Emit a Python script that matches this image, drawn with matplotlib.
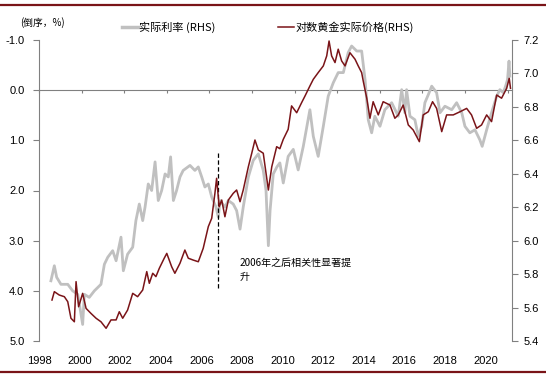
"""Real rate (inverted) vs log real gold price, 1998-2020."""

import matplotlib

matplotlib.use("Agg")
import matplotlib.pyplot as plt
from matplotlib.lines import Line2D

CJK = ["Noto Sans CJK SC", "DejaVu Sans"]
plt.rcParams["font.family"] = ["Liberation Sans", "DejaVu Sans"]

GREY = "#c0c0c0"
RED = "#7a1418"
AXIS_GREY = "#808080"

# real interest rate, % (drawn on an inverted left axis): (year, value)
rate_pts = [
    (1998.56, 3.80), (1998.72, 3.50), (1998.83, 3.73), (1999.03, 3.87), (1999.35, 3.87),
    (1999.58, 4.00), (1999.82, 4.07), (2000.05, 4.67), (2000.13, 4.07), (2000.36, 4.13),
    (2000.60, 4.00), (2000.91, 3.87), (2001.07, 3.47), (2001.23, 3.33), (2001.46, 3.20),
    (2001.62, 3.40), (2001.85, 2.93), (2001.96, 3.60), (2002.16, 3.27), (2002.40, 3.13),
    (2002.55, 2.60), (2002.71, 2.27), (2002.87, 2.60), (2002.98, 2.33), (2003.13, 1.87),
    (2003.29, 2.00), (2003.45, 1.43), (2003.60, 2.20), (2003.76, 2.00), (2003.92, 1.67),
    (2004.07, 1.73), (2004.18, 1.33), (2004.31, 2.20), (2004.46, 2.00), (2004.62, 1.73),
    (2004.77, 1.60), (2005.09, 1.50), (2005.32, 1.60), (2005.48, 1.53), (2005.64, 1.73),
    (2005.79, 1.93), (2005.95, 1.87), (2006.11, 2.13), (2006.31, 2.33), (2006.42, 2.53),
    (2006.50, 2.20), (2006.73, 2.33), (2006.89, 2.20), (2007.12, 2.27), (2007.28, 2.40),
    (2007.44, 2.77), (2007.59, 2.33), (2007.83, 1.73), (2008.06, 1.40), (2008.30, 1.27),
    (2008.53, 1.60), (2008.66, 2.00), (2008.77, 3.10), (2008.85, 2.40), (2009.00, 1.67),
    (2009.17, 1.53), (2009.31, 1.45), (2009.47, 1.85), (2009.70, 1.32), (2009.94, 1.18),
    (2010.17, 1.59), (2010.41, 1.12), (2010.72, 0.39), (2010.88, 0.92), (2011.11, 1.32),
    (2011.35, 0.72), (2011.58, 0.12), (2011.82, -0.15), (2012.05, -0.35), (2012.29, -0.35),
    (2012.52, -0.75), (2012.68, -0.88), (2012.92, -0.78), (2013.15, -0.78), (2013.31, -0.21),
    (2013.46, 0.59), (2013.62, 0.85), (2013.77, 0.52), (2014.01, 0.72), (2014.24, 0.39),
    (2014.56, 0.25), (2014.87, 0.52), (2015.03, -0.01), (2015.18, 0.45), (2015.26, -0.01),
    (2015.42, 0.52), (2015.65, 0.59), (2015.81, 0.92), (2015.97, 0.72), (2016.12, 0.25),
    (2016.28, 0.09), (2016.44, -0.08), (2016.67, 0.05), (2016.83, 0.45), (2017.06, 0.32),
    (2017.38, 0.39), (2017.61, 0.25), (2017.85, 0.45), (2018.00, 0.72), (2018.23, 0.85),
    (2018.47, 0.79), (2018.70, 0.99), (2018.81, 1.12), (2019.02, 0.79), (2019.25, 0.45),
    (2019.49, 0.12), (2019.64, -0.01), (2019.80, 0.05), (2019.91, -0.08), (2020.00, -0.21),
    (2020.07, -0.58), (2020.11, -0.28),
]

# log real gold price (right axis): (year, value)
gold_pts = [
    (1998.61, 5.645), (1998.72, 5.695), (1998.95, 5.675), (1999.19, 5.665), (1999.35, 5.635),
    (1999.50, 5.536), (1999.66, 5.515), (1999.74, 5.755), (1999.86, 5.605), (2000.05, 5.685),
    (2000.21, 5.595), (2000.44, 5.565), (2000.68, 5.536), (2000.91, 5.515), (2001.15, 5.476),
    (2001.38, 5.526), (2001.62, 5.526), (2001.77, 5.575), (2001.93, 5.536), (2002.16, 5.585),
    (2002.40, 5.685), (2002.63, 5.665), (2002.87, 5.705), (2003.06, 5.815), (2003.18, 5.745),
    (2003.34, 5.805), (2003.49, 5.785), (2003.65, 5.835), (2003.88, 5.895), (2004.00, 5.924),
    (2004.23, 5.844), (2004.38, 5.805), (2004.62, 5.865), (2004.85, 5.944), (2005.01, 5.895),
    (2005.24, 5.884), (2005.48, 5.874), (2005.71, 5.954), (2005.95, 6.084), (2006.11, 6.134),
    (2006.26, 6.283), (2006.34, 6.373), (2006.46, 6.203), (2006.58, 6.243), (2006.73, 6.143),
    (2006.89, 6.243), (2007.12, 6.283), (2007.28, 6.303), (2007.44, 6.233), (2007.59, 6.303),
    (2007.83, 6.442), (2007.99, 6.523), (2008.14, 6.602), (2008.30, 6.542), (2008.53, 6.523),
    (2008.77, 6.303), (2008.93, 6.442), (2009.16, 6.562), (2009.31, 6.550), (2009.47, 6.606),
    (2009.70, 6.666), (2009.86, 6.806), (2010.10, 6.765), (2010.33, 6.825), (2010.49, 6.865),
    (2010.72, 6.925), (2010.88, 6.965), (2011.11, 7.005), (2011.35, 7.045), (2011.51, 7.105),
    (2011.62, 7.194), (2011.74, 7.105), (2011.90, 7.065), (2012.05, 7.145), (2012.21, 7.075),
    (2012.37, 7.045), (2012.60, 7.124), (2012.84, 7.085), (2012.99, 7.045), (2013.15, 7.005),
    (2013.23, 6.951), (2013.39, 6.852), (2013.54, 6.732), (2013.69, 6.831), (2013.93, 6.752),
    (2014.16, 6.831), (2014.48, 6.811), (2014.71, 6.732), (2014.87, 6.752), (2015.10, 6.811),
    (2015.34, 6.692), (2015.57, 6.662), (2015.86, 6.592), (2016.04, 6.752), (2016.28, 6.771),
    (2016.48, 6.831), (2016.67, 6.791), (2016.91, 6.652), (2017.14, 6.752), (2017.45, 6.752),
    (2017.77, 6.771), (2018.08, 6.791), (2018.31, 6.752), (2018.55, 6.672), (2018.78, 6.692),
    (2019.02, 6.752), (2019.25, 6.712), (2019.49, 6.871), (2019.72, 6.852), (2019.96, 6.911),
    (2020.08, 6.971), (2020.14, 6.911),
]

x_ticks = list(range(1998, 2021, 2))
left_ticks = [-1, 0, 1, 2, 3, 4, 5]
right_ticks = [5.4, 5.6, 5.8, 6.0, 6.2, 6.4, 6.6, 6.8, 7.0, 7.2]

marker_year = 2006.42
marker_span = (1.26, 3.96)
note = "2006年之后相关性显著提\n升"


def to_label(y):
    # Excel spaced the year labels slightly tighter than the data axis
    return 1998 + 21.3 * (y - 1998) / 20.3


def from_label(v):
    return 1998 + 20.3 * (v - 1998) / 21.3


rate_year, rate = zip(*rate_pts)
gold_year, gold = zip(*gold_pts)

fig = plt.figure(figsize=(5.46, 3.76), dpi=100)
ax = fig.add_axes([39 / 546, 1 - 341 / 376, 473 / 546, 301 / 376])
ax2 = ax.twinx()

ax.plot(rate_year, rate, color=GREY, lw=2.0, solid_joinstyle="round")
ax2.plot(gold_year, gold, color=RED, lw=1.1)

ax.set_xlim(1998, 2020.21)
ax.set_ylim(5, -1)
ax2.set_ylim(5.4, 7.2)

for a in (ax, ax2):
    for side in ("top", "bottom"):
        a.spines[side].set_visible(False)
ax.spines["right"].set_visible(False)
ax2.spines["left"].set_visible(False)
ax.spines["left"].set_color(AXIS_GREY)
ax2.spines["right"].set_color(AXIS_GREY)

ax.set_yticks(left_ticks, [f"{v:.1f}" for v in left_ticks])
ax2.set_yticks(right_ticks, [f"{v:.1f}" for v in right_ticks])
ax.tick_params(axis="y", length=4, width=0.8, color=AXIS_GREY, pad=6.5, labelsize=8)
ax2.tick_params(axis="y", length=4, width=0.8, color=AXIS_GREY, pad=4, labelsize=8)
ax.tick_params(axis="x", bottom=False, labelbottom=False)

# year labels along the bottom
lab = ax.secondary_xaxis("bottom", functions=(to_label, from_label))
lab.spines["bottom"].set_visible(False)
lab.set_xticks(x_ticks, [str(y) for y in x_ticks])
lab.tick_params(length=0, pad=11, labelsize=8)

# zero line with small upward ticks
zero = ax.secondary_xaxis(5 / 6)
zero.set_xticks(x_ticks, [])
for s in zero.spines.values():
    s.set_color(AXIS_GREY)
zero.tick_params(length=2.4, width=0.8, color=AXIS_GREY, direction="in")

ax.vlines(marker_year, *marker_span, colors="black", lw=0.9, linestyles=(0, (3.5, 2)))
ax.text(2007.44, 3.35, note, fontsize=7.2, family=CJK, va="top", ha="left",
        linespacing=1.45)

fig.text(20 / 546, 1 - 23 / 376, "(倒序，%)", fontsize=7, family=CJK, va="center")

handles = [Line2D([], [], color=GREY, lw=2.5), Line2D([], [], color=RED, lw=1.1)]
fig.legend(handles, ["实际利率 (RHS)", "对数黄金实际价格(RHS)"], ncol=2,
           loc="center left", bbox_to_anchor=(122 / 546, 1 - 27 / 376), frameon=False,
           prop={"family": CJK, "size": 8}, handlelength=1.45, handletextpad=0.1,
           columnspacing=5.6, borderpad=0, borderaxespad=0)

for yf in (1 - 5 / 376, 1 - 372 / 376):
    fig.add_artist(Line2D([0, 1], [yf, yf], color=RED, lw=1.6, transform=fig.transFigure))

fig.savefig("out.png", dpi=100)
